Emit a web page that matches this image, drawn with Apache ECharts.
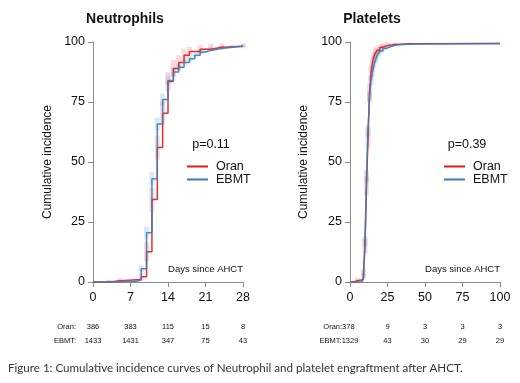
<!DOCTYPE html>
<html>
<head>
<meta charset="utf-8">
<script src="https://cdn.jsdelivr.net/npm/echarts@6/dist/echarts.min.js"></script>
<style>
    html, body { margin: 0; padding: 0; background: #fff; }
    #chart { width: 520px; height: 383px; }
</style>
</head>
<body>
<div id="chart"></div>
<script>
// neutrophil engraftment, step curves (day, cumulative incidence %)
const neutOranDays = [0, 3, 5, 9, 10, 11, 12, 13, 14, 15, 16, 17, 18, 20, 22, 24, 28]
const neutOranVals = [0, 0.5, 1, 2.2, 12.6, 34.4, 56, 70.3, 83.5, 89, 91.5, 94.5, 96, 97, 97.8, 98.2, 98.4]
const neutOranCI = [0, 0.5, 0.7, 1.5, 4, 5, 5, 5, 4, 3.5, 3, 2.5, 2, 1.8, 1.5, 1.2, 1]
const neutEbmtDays = [0, 3, 8, 9, 10, 11, 12, 13, 14, 15, 16, 17, 18, 19, 20, 21, 22, 24, 26, 28]
const neutEbmtVals = [0, 0.3, 0.8, 5.5, 20.5, 43, 65.8, 76, 84, 87.5, 89.5, 91.5, 93, 94.5, 95.8, 96.5, 97.3, 97.8, 98.2, 98.4]
const neutEbmtCI = [0, 0.3, 0.5, 1.5, 2.5, 2.7, 2.7, 2.5, 2, 1.8, 1.6, 1.4, 1.2, 1.1, 1, 1, 0.8, 0.7, 0.6, 0.5]

// platelet engraftment
const platOranDays = [0, 3, 5, 9, 10, 11, 12, 13, 14, 15, 16, 17, 18, 20, 22, 25, 30, 40, 100]
const platOranVals = [0, 0.5, 1, 4, 15, 40, 60, 79, 87, 91.5, 94, 95.5, 96.5, 97.8, 98.5, 99, 99.3, 99.4, 99.4]
const platOranCI = [0, 0.5, 0.7, 1.5, 3, 4, 4, 3.5, 3, 2.5, 2, 1.8, 1.5, 1.2, 1, 0.8, 0.6, 0.5, 0]
const platEbmtDays = [0, 8, 9, 10, 11, 12, 13, 14, 15, 16, 17, 18, 19, 20, 22, 24, 27, 30, 35, 45, 100]
const platEbmtVals = [0, 0.5, 2.5, 17, 44, 63, 77, 84, 87.5, 90.5, 92.5, 94.3, 95.3, 96.2, 97.3, 98, 98.6, 99, 99.2, 99.4, 99.4]
const platEbmtCI = [0, 0.3, 1, 2, 2.5, 2.5, 2.2, 2, 1.8, 1.5, 1.3, 1.2, 1, 1, 0.8, 0.6, 0.5, 0.4, 0.3, 0.3, 0]

// numbers at risk
const neutRiskDays = [0, 7, 14, 21, 28]
const neutRiskOran = [386, 383, 115, 15, 8]
const neutRiskEbmt = [1433, 1431, 347, 75, 43]
const platRiskDays = [0, 25, 50, 75, 100]
const platRiskOran = [378, 9, 3, 3, 3]
const platRiskEbmt = [1329, 43, 30, 29, 29]

const pValues = ['p=0.11', 'p=0.39']
const titles = ['Neutrophils', 'Platelets']

const RED = '#E41A1C', BLUE = '#377EB8'
const AXIS_GREY = '#8c8c8c'
const FONT = 'Liberation Sans, Arial, sans-serif'

const zip = (xs, ys) => xs.map((x, i) => [x, ys[i]])
const ciData = (xs, ys, cs) => xs.map((x, i) => [x, Math.max(0, ys[i] - cs[i]), Math.min(100, ys[i] + cs[i])])

const xAxisBase = (grid, max, step) => ({
    type: 'value', gridIndex: grid, min: 0, max: max, interval: step,
    axisLine: { show: true, lineStyle: { color: AXIS_GREY, width: 1 } },
    axisTick: { show: true, length: 5, lineStyle: { color: AXIS_GREY } },
    axisLabel: { fontSize: 12.5, color: '#111', margin: 9, fontFamily: FONT },
    splitLine: { show: false }
})
const yAxisBase = (grid, gap) => ({
    type: 'value', gridIndex: grid, min: 0, max: 100, interval: 25,
    name: 'Cumulative incidence', nameLocation: 'middle', nameGap: gap,
    nameTextStyle: { fontSize: 12, color: '#111', fontFamily: FONT },
    axisLine: { show: true, lineStyle: { color: AXIS_GREY, width: 1 } },
    axisTick: { show: true, length: 5, lineStyle: { color: AXIS_GREY } },
    axisLabel: { fontSize: 12.5, color: '#111', margin: 8, fontFamily: FONT },
    splitLine: { show: false }
})

const ciSeries = (name, grid, data, fill) => ({
    type: 'custom', name: name, xAxisIndex: grid, yAxisIndex: grid,
    data: data, z: 1, silent: true,
    encode: { x: 0, y: [1, 2] },
    renderItem: (params, api) => {
        const hi = api.coord([api.value(0), api.value(2)])
        const lo = api.coord([api.value(0), api.value(1)])
        return {
            type: 'rect',
            shape: { x: hi[0] - 2.5, y: hi[1], width: 5, height: lo[1] - hi[1] },
            style: { fill: fill }
        }
    }
})
const stepSeries = (name, grid, data, color) => ({
    type: 'line', name: name, xAxisIndex: grid, yAxisIndex: grid,
    data: data, step: 'end', symbol: 'none', z: 3,
    color: color,
    lineStyle: { color: color, width: 1.5, opacity: 0.9 }
})

const legendAt = (left) => ({
    data: ['Oran', 'EBMT'], orient: 'vertical', left: left, top: 155,
    icon: 'rect', itemWidth: 21, itemHeight: 2, itemGap: 0, selectedMode: false,
    textStyle: { fontSize: 12.5, color: '#111', lineHeight: 13, fontFamily: FONT, padding: [0, 0, 0, 3] }
})

const chart = echarts.init(document.getElementById('chart'))
chart.setOption({
    animation: false,
    grid: [
        { left: 93, top: 42, width: 150, height: 240 },
        { left: 350, top: 42, width: 150, height: 240 }
    ],
    xAxis: [xAxisBase(0, 28, 7), xAxisBase(1, 100, 25)],
    yAxis: [yAxisBase(0, 39), yAxisBase(1, 40)],
    legend: [legendAt(182), legendAt(439)],
    series: [
        ciSeries('ciOranN', 0, ciData(neutOranDays, neutOranVals, neutOranCI), 'rgba(228,26,28,0.16)'),
        ciSeries('ciEbmtN', 0, ciData(neutEbmtDays, neutEbmtVals, neutEbmtCI), 'rgba(55,126,184,0.18)'),
        ciSeries('ciOranP', 1, ciData(platOranDays, platOranVals, platOranCI), 'rgba(228,26,28,0.16)'),
        ciSeries('ciEbmtP', 1, ciData(platEbmtDays, platEbmtVals, platEbmtCI), 'rgba(55,126,184,0.18)'),
        stepSeries('Oran', 0, zip(neutOranDays, neutOranVals), RED),
        stepSeries('EBMT', 0, zip(neutEbmtDays, neutEbmtVals), BLUE),
        stepSeries('Oran', 1, zip(platOranDays, platOranVals), RED),
        stepSeries('EBMT', 1, zip(platEbmtDays, platEbmtVals), BLUE)
    ]
})

// texts placed from the axes' own scales
const px = (grid, day) => chart.convertToPixel({ xAxisIndex: grid }, day)
const text = (x, y, str, size, align, weight) => ({
    type: 'text', x: x, y: y,
    style: { text: str, font: (weight ? weight + ' ' : '') + size + 'px ' + FONT, fill: '#111', align: align || 'center', verticalAlign: 'middle' }
})

const g = []
g.push(text(125, 19, titles[0], 14, 'center', 'bold'))
g.push(text(372, 19, titles[1], 14, 'center', 'bold'))
g.push(text(211, 145, pValues[0], 12.5))
g.push(text(467, 145, pValues[1], 12.5))
g.push(text(px(0, 28), 269, 'Days since AHCT', 9.5, 'right'))
g.push(text(px(1, 100), 269, 'Days since AHCT', 9.5, 'right'))

const riskFont = 7.5
g.push(text(76, 327, 'Oran:', riskFont, 'right'))
g.push(text(76, 341, 'EBMT:', riskFont, 'right'))
neutRiskDays.forEach((d, i) => {
    g.push(text(px(0, d), 327, String(neutRiskOran[i]), riskFont))
    g.push(text(px(0, d), 341, String(neutRiskEbmt[i]), riskFont))
})
platRiskDays.forEach((d, i) => {
    const x = i === 0 ? px(1, d) - 11 : px(1, d)
    g.push(text(x, 327, (i === 0 ? 'Oran:' : '') + platRiskOran[i], riskFont))
    g.push(text(x, 341, (i === 0 ? 'EBMT:' : '') + platRiskEbmt[i], riskFont))
})

g.push({
    type: 'text', x: 8, y: 368,
    style: { text: 'Figure 1: Cumulative incidence curves of Neutrophil and platelet engraftment after AHCT.', font: '11.6px Lato, sans-serif', fill: '#333', align: 'left', verticalAlign: 'middle' }
})

chart.setOption({ graphic: g })
</script>
</body>
</html>
